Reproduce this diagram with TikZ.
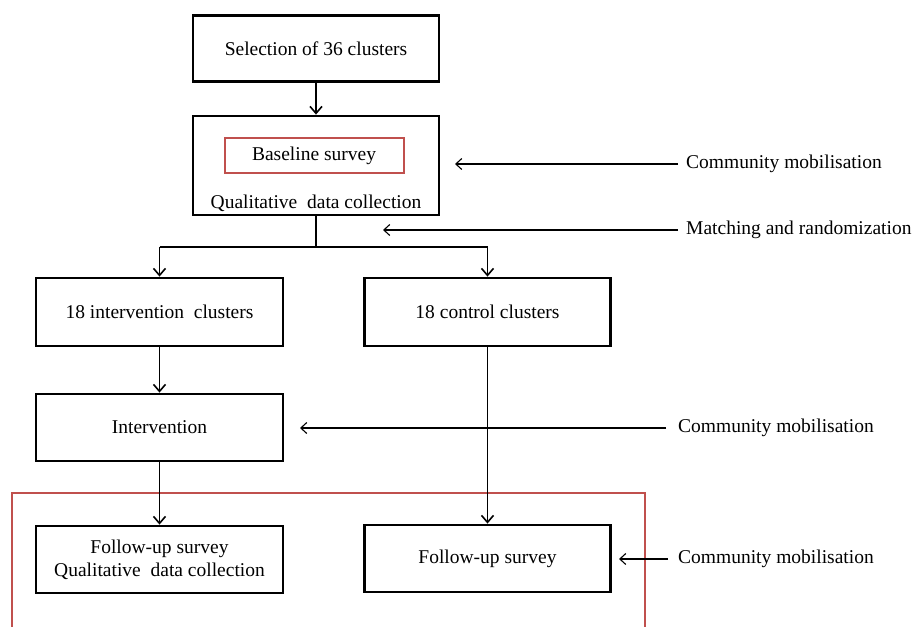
\documentclass[tikz,border=0pt]{standalone}
\usepackage{fontspec}
\setmainfont{Liberation Serif}
\usetikzlibrary{arrows.meta}
\definecolor{boxred}{RGB}{192,80,77}
\begin{document}
\begin{tikzpicture}[x=1pt,y=-1pt,
  every node/.style={font=\fontsize{19.5}{22}\selectfont},
  bbox/.style={draw=black,line width=2.8pt,inner sep=0pt,align=center},
  rbox/.style={draw=boxred,line width=2pt,inner sep=0pt},
  arr/.style={-{Straight Barb[length=7pt,width=12pt]},line width=1.6pt},
  thin arr/.style={-{Straight Barb[length=6pt,width=11pt]},line width=1.1pt},
  lab/.style={anchor=west,inner sep=0pt}]
\useasboundingbox (0,0) rectangle (917,626);
% main boxes
\node[bbox,minimum width=246pt,minimum height=66pt] (sel) at (316,48.5) {Selection of 36 clusters};
\node[bbox,minimum width=246pt,minimum height=99pt] (base) at (316,165.5) {};
\node[rbox,minimum width=179pt,minimum height=35pt] (bs) at (314,155.5) {Baseline survey};
\node[inner sep=0pt] (qual) at (316,203) {Qualitative\ \ data collection};
\node[bbox,minimum width=247pt,minimum height=68pt] (int) at (159.5,312) {18 intervention\ \ clusters};
\node[bbox,minimum width=246pt,minimum height=68pt] (ctl) at (487.5,312) {18 control clusters};
\node[bbox,minimum width=247pt,minimum height=67pt] (iv) at (159.5,427.5) {Intervention};
\node[bbox,minimum width=247pt,minimum height=67pt,font=\fontsize{19.5}{23}\selectfont] (fl) at (159.5,559.5) {Follow-up survey\\Qualitative\ \ data collection};
\node[bbox,minimum width=246pt,minimum height=67pt] (fr) at (487.5,558.5) {Follow-up survey};
% red follow-up frame (continues below the picture)
\draw[boxred,line width=2pt] (12,630) -- (12,493) -- (645,493) -- (645,630);
% flow connectors
\coordinate (split) at (316,247);
\coordinate (sl) at (159.5,247);
\coordinate (sr) at (487.5,247);
\draw[arr] (sel.south) -- (base.north);
\draw[line width=1.6pt] (base.south) -- (split);
\draw[line width=1.6pt] (sl) -- (sr);
\draw[arr] (sl) -- (int.north);
\draw[arr] (sr) -- (ctl.north);
\draw[arr] (int.south) -- (iv.north);
\draw[arr] (iv.south) -- (fl.north);
\draw[arr] (ctl.south) -- (fr.north);
% side labels
\node[lab] (cm1) at (686,164) {Community mobilisation};
\node[lab] (mr) at (686,230) {Matching and randomization};
\node[lab] (cm2) at (678,428) {Community mobilisation};
\node[lab] (cm3) at (678,559) {Community mobilisation};
\coordinate (t1) at (455,164);
\coordinate (t2) at (383,230);
\coordinate (t3) at (300,428);
\coordinate (t4) at (619,559);
\draw[thin arr] ([xshift=-8pt]cm1.west) -- (t1);
\draw[thin arr] ([xshift=-8pt]mr.west) -- (t2);
\draw[thin arr] ([xshift=-12pt]cm2.west) -- (t3);
\draw[thin arr] ([xshift=-10pt]cm3.west) -- (t4);
\end{tikzpicture}
\end{document}
